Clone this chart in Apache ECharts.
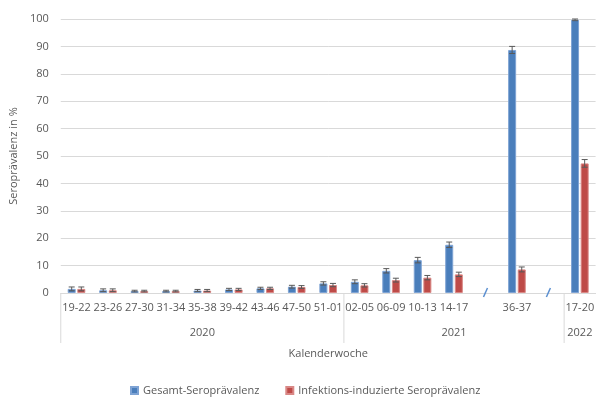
<!DOCTYPE html>
<html>
<head>
<meta charset="utf-8">
<script src="https://cdn.jsdelivr.net/npm/echarts@6/dist/echarts.min.js"></script>
<style>
  html, body { margin: 0; padding: 0; background: #fff; }
  #chart { width: 597px; height: 397px; }
</style>
</head>
<body>
<div id="chart"></div>
<script>
// Kalenderwochen (leere Slots markieren Zeitsprünge auf der Achse)
const categories = ['19-22', '23-26', '27-30', '31-34', '35-38', '39-42', '43-46', '47-50', '51-01',
                    '02-05', '06-09', '10-13', '14-17', '', '36-37', '', '17-20'];

// Seroprävalenz in %
const gesamt      = [1.5, 1.0, 0.7, 0.7, 0.9, 1.3, 1.7, 2.3, 3.5, 4.1, 8.1, 12.0, 17.6, null, 88.7, null, 99.7];
const infektion   = [1.5, 1.0, 0.7, 0.7, 0.9, 1.3, 1.7, 2.2, 2.9, 2.8, 4.7, 5.6, 6.8, null, 8.6, null, 47.3];

// Konfidenzintervall (± Prozentpunkte)
const gesamtErr    = [0.7, 0.5, 0.3, 0.3, 0.4, 0.4, 0.4, 0.5, 0.6, 0.7, 0.8, 1.0, 1.0, null, 1.3, null, 0.3];
const infektionErr = [0.7, 0.5, 0.3, 0.3, 0.4, 0.4, 0.4, 0.5, 0.6, 0.6, 0.7, 0.8, 0.8, null, 0.9, null, 1.4];

// Jahresgruppen: [erster Index, letzter Index]
const years     = ['2020', '2021', '2022'];
const yearSpans = [[0, 8], [9, 15], [16, 16]];

// Achsenunterbrechungen
const breakSlots = [13, 15];

const yTicks = { min: 0, max: 100, interval: 10 };

const BAR_W = 8;
const BAR_GAP = 0.2;
const FONT = '"Open Sans", "Liberation Sans", sans-serif';
const TEXT = '#595959';
const BLUE = '#4A7EBB';
const RED = '#BE4B48';

function errorSeries(name, values, errs, side) {
  return {
    type: 'custom',
    name: name + ' Fehler',
    z: 5,
    silent: true,
    data: values.map((v, i) => v == null ? null : [i, v - errs[i], v + errs[i]]).filter(d => d),
    encode: { x: 0, y: [1, 2] },
    renderItem: function (params, api) {
      const i = api.value(0);
      const lo = api.coord([i, api.value(1)]);
      const hi = api.coord([i, api.value(2)]);
      const x = lo[0] + side * (BAR_W / 2 + BAR_W * BAR_GAP / 2);
      const style = { stroke: '#595959', lineWidth: 1 };
      const cap = 3;
      return {
        type: 'group',
        children: [
          { type: 'line', shape: { x1: x, y1: lo[1], x2: x, y2: hi[1] }, style: style },
          { type: 'line', shape: { x1: x - cap, y1: hi[1], x2: x + cap, y2: hi[1] }, style: style },
          { type: 'line', shape: { x1: x - cap, y1: lo[1], x2: x + cap, y2: lo[1] }, style: style }
        ]
      };
    }
  };
}

const chart = echarts.init(document.getElementById('chart'), null, { renderer: 'canvas' });

chart.setOption({
  animation: false,
  textStyle: { fontFamily: FONT },
  grid: { left: 57, right: -2, top: 19, bottom: 104, containLabel: false },
  legend: {
    left: 130,
    top: 385,
    padding: 0,
    itemWidth: 7,
    itemHeight: 7,
    itemGap: 26,
    icon: 'rect',
    textStyle: { color: TEXT, fontSize: 11, fontFamily: FONT },
    data: ['Gesamt-Seroprävalenz', 'Infektions-induzierte Seroprävalenz']
  },
  xAxis: {
    type: 'category',
    data: categories,
    boundaryGap: true,
    axisLine: { show: true, lineStyle: { color: '#D9D9D9', width: 1 } },
    axisTick: { show: false },
    axisLabel: { color: TEXT, fontSize: 11, margin: 9, interval: 0, fontFamily: FONT },
    name: 'Kalenderwoche',
    nameLocation: 'middle',
    nameGap: 55,
    nameTextStyle: { color: TEXT, fontSize: 11, fontFamily: FONT }
  },
  yAxis: {
    type: 'value',
    min: yTicks.min,
    max: yTicks.max,
    interval: yTicks.interval,
    axisLine: { show: false },
    axisTick: { show: false },
    splitLine: { lineStyle: { color: '#D9D9D9', width: 1 } },
    axisLabel: { color: TEXT, fontSize: 11, margin: 12, fontFamily: FONT },
    name: 'Seroprävalenz in %',
    nameLocation: 'middle',
    nameGap: 38,
    nameTextStyle: { color: TEXT, fontSize: 11, fontFamily: FONT }
  },
  series: [
    {
      name: 'Gesamt-Seroprävalenz',
      type: 'bar',
      data: gesamt,
      barWidth: BAR_W,
      barGap: (BAR_GAP * 100) + '%',
      itemStyle: { color: BLUE, borderColor: '#7EA3D4', borderWidth: 1 }
    },
    {
      name: 'Infektions-induzierte Seroprävalenz',
      type: 'bar',
      data: infektion,
      barWidth: BAR_W,
      itemStyle: { color: RED, borderColor: '#D98886', borderWidth: 1 }
    },
    errorSeries('Gesamt-Seroprävalenz', gesamt, gesamtErr, -1),
    errorSeries('Infektions-induzierte Seroprävalenz', infektion, infektionErr, 1),
    {
      // Jahresbeschriftung mit Trennlinien unter der Achse
      type: 'custom',
      silent: true,
      z: 3,
      data: yearSpans.map((s, i) => [s[0], s[1], i]),
      encode: { x: [0, 1] },
      renderItem: function (params, api) {
        const start = api.coord([api.value(0), 0]);
        const end = api.coord([api.value(1), 0]);
        const band = api.size([1, 0])[0];
        const x0 = start[0] - band / 2;
        const x1 = end[0] + band / 2;
        const y0 = start[1];
        return {
          type: 'group',
          children: [
            { type: 'line', shape: { x1: x0, y1: y0, x2: x0, y2: y0 + 50 },
              style: { stroke: '#D9D9D9', lineWidth: 1 } },
            { type: 'text', x: (x0 + x1) / 2, y: y0 + 40,
              style: { text: years[api.value(2)], fill: TEXT, fontSize: 11, fontFamily: FONT,
                       align: 'center', verticalAlign: 'middle' } }
          ]
        };
      }
    },
    {
      // Unterbrechungszeichen auf der Kategorieachse
      type: 'custom',
      silent: true,
      z: 4,
      data: breakSlots.map(i => [i, 0]),
      encode: { x: 0, y: 1 },
      renderItem: function (params, api) {
        const p = api.coord([api.value(0), 0]);
        return {
          type: 'line',
          shape: { x1: p[0] - 2, y1: p[1] + 4, x2: p[0] + 2, y2: p[1] - 5 },
          style: { stroke: '#5B8FD0', lineWidth: 1.5 }
        };
      }
    }
  ]
});
</script>
</body>
</html>
